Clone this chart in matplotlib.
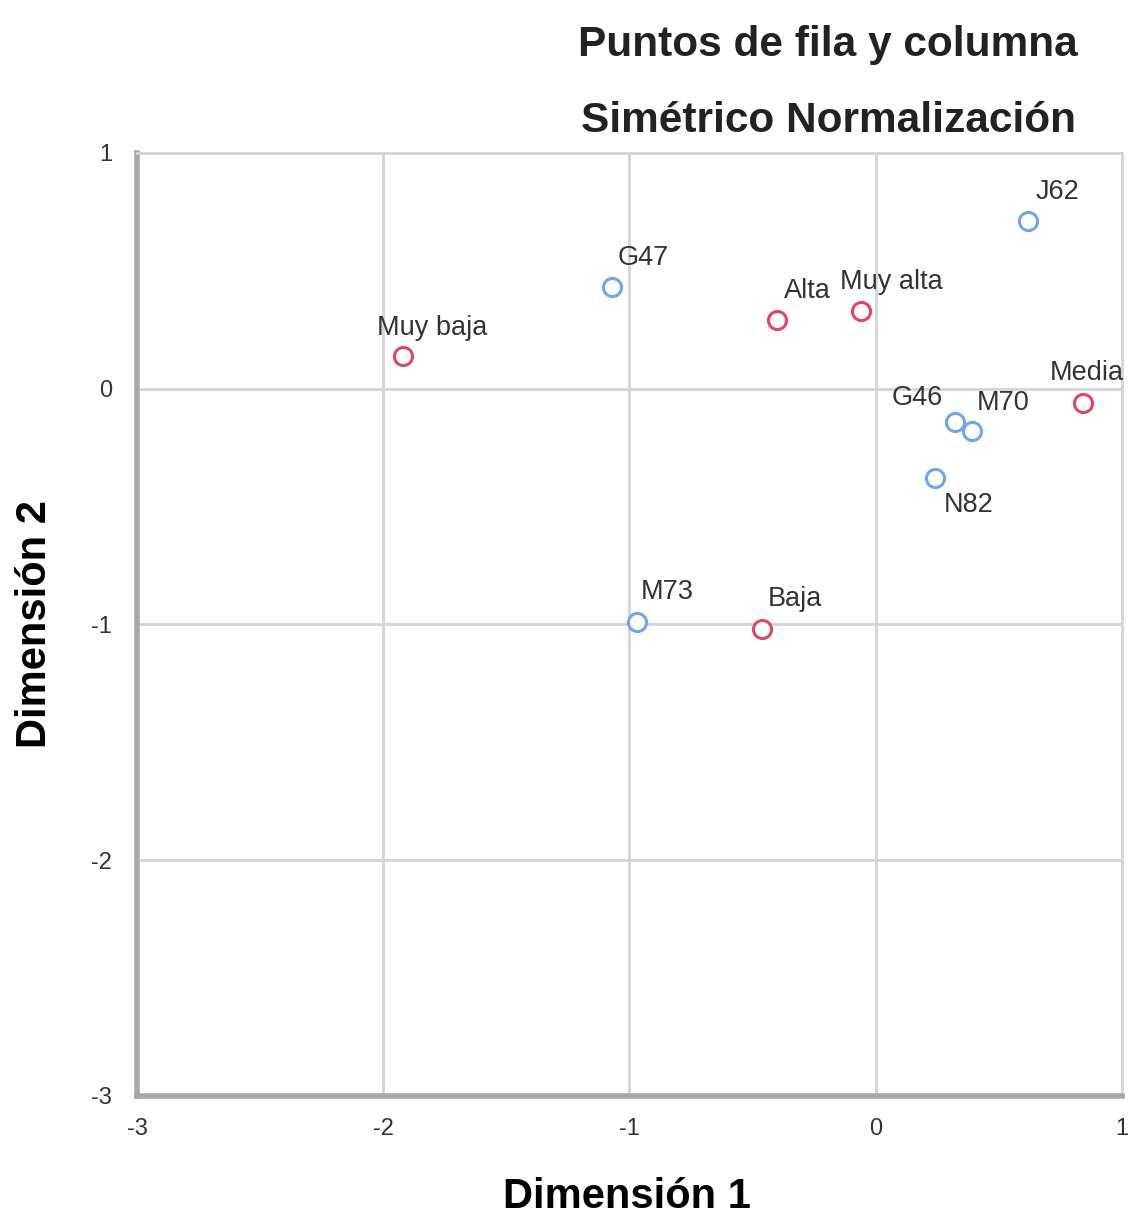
import numpy as np
import matplotlib.pyplot as plt

plt.rcParams['font.family'] = ['Liberation Sans', 'DejaVu Sans']
plt.rcParams['axes.unicode_minus'] = False

# filas (perfil) y columnas (grupos)
row_names = ["Muy baja", "Alta", "Muy alta", "Media", "Baja"]
row_x = [-1.92, -0.40, -0.06, 0.84, -0.46]
row_y = [0.14, 0.29, 0.33, -0.06, -1.02]

col_names = ["J62", "G47", "G46", "M70", "N82", "M73"]
col_x = [0.62, -1.07, 0.32, 0.39, 0.24, -0.97]
col_y = [0.71, 0.43, -0.14, -0.18, -0.38, -0.99]

ticks = [-3, -2, -1, 0, 1]

# label offsets in pixels (left edge, vertical centre)
offs = {"J62": (7, 29), "G47": (5, 29), "Alta": (7, 29), "Muy alta": (-21, 29),
        "Muy baja": (-26, 28), "Media": (-33, 30), "G46": (-63, 24), "M70": (5, 28),
        "N82": (9, -27), "M73": (4, 30), "Baja": (5, 30)}

blue = "#6fa7ee"
red = "#e0456c"

fig = plt.figure(figsize=(11.29, 12.18), dpi=100)
ax = fig.add_axes([0.1213, 0.1002, 0.8725, 0.7742])

ax.set_xlim(-3, 1)
ax.set_ylim(-3, 1)
ax.set_xticks(ticks)
ax.set_yticks(ticks)
ax.grid(True, color="#d4d4d4", linewidth=2)
ax.set_axisbelow(True)
ax.tick_params(length=0, labelsize=17, colors="#333333")
ax.tick_params(axis="x", pad=16)
ax.tick_params(axis="y", pad=18)

for s in ["top", "right"]:
    ax.spines[s].set_color("#d4d4d4")
    ax.spines[s].set_linewidth(2)
for s in ["left", "bottom"]:
    ax.spines[s].set_color("#a8a8a8")
    ax.spines[s].set_linewidth(4)

ax.scatter(col_x, col_y, s=170, facecolors="white", edgecolors=blue, linewidths=2.2, zorder=3)
ax.scatter(row_x, row_y, s=170, facecolors="white", edgecolors=red, linewidths=2.2, zorder=3)

for names, xs, ys in [(col_names, col_x, col_y), (row_names, row_x, row_y)]:
    for n, x, y in zip(names, xs, ys):
        ax.annotate(n, (x, y), xytext=offs[n], textcoords="offset pixels",
                    ha="left", va="center", fontsize=19.5, color="#333333", zorder=4)

ax.set_xlabel("Dimensión 1", fontsize=30, fontweight="bold", va="center")
ax.set_ylabel("Dimensión 2", fontsize=30, fontweight="bold", va="center")
ax.xaxis.set_label_coords(0.497, -0.107)
ax.yaxis.set_label_coords(-0.104, 0.5)

fig.text(0.955, 0.963, "Puntos de fila y columna", ha="right", va="center",
         fontsize=30.5, fontweight="bold", color="#222222")
fig.text(0.953, 0.901, "Simétrico Normalización", ha="right", va="center",
         fontsize=30.5, fontweight="bold", color="#222222")

fig.savefig("out.png", dpi=100)
